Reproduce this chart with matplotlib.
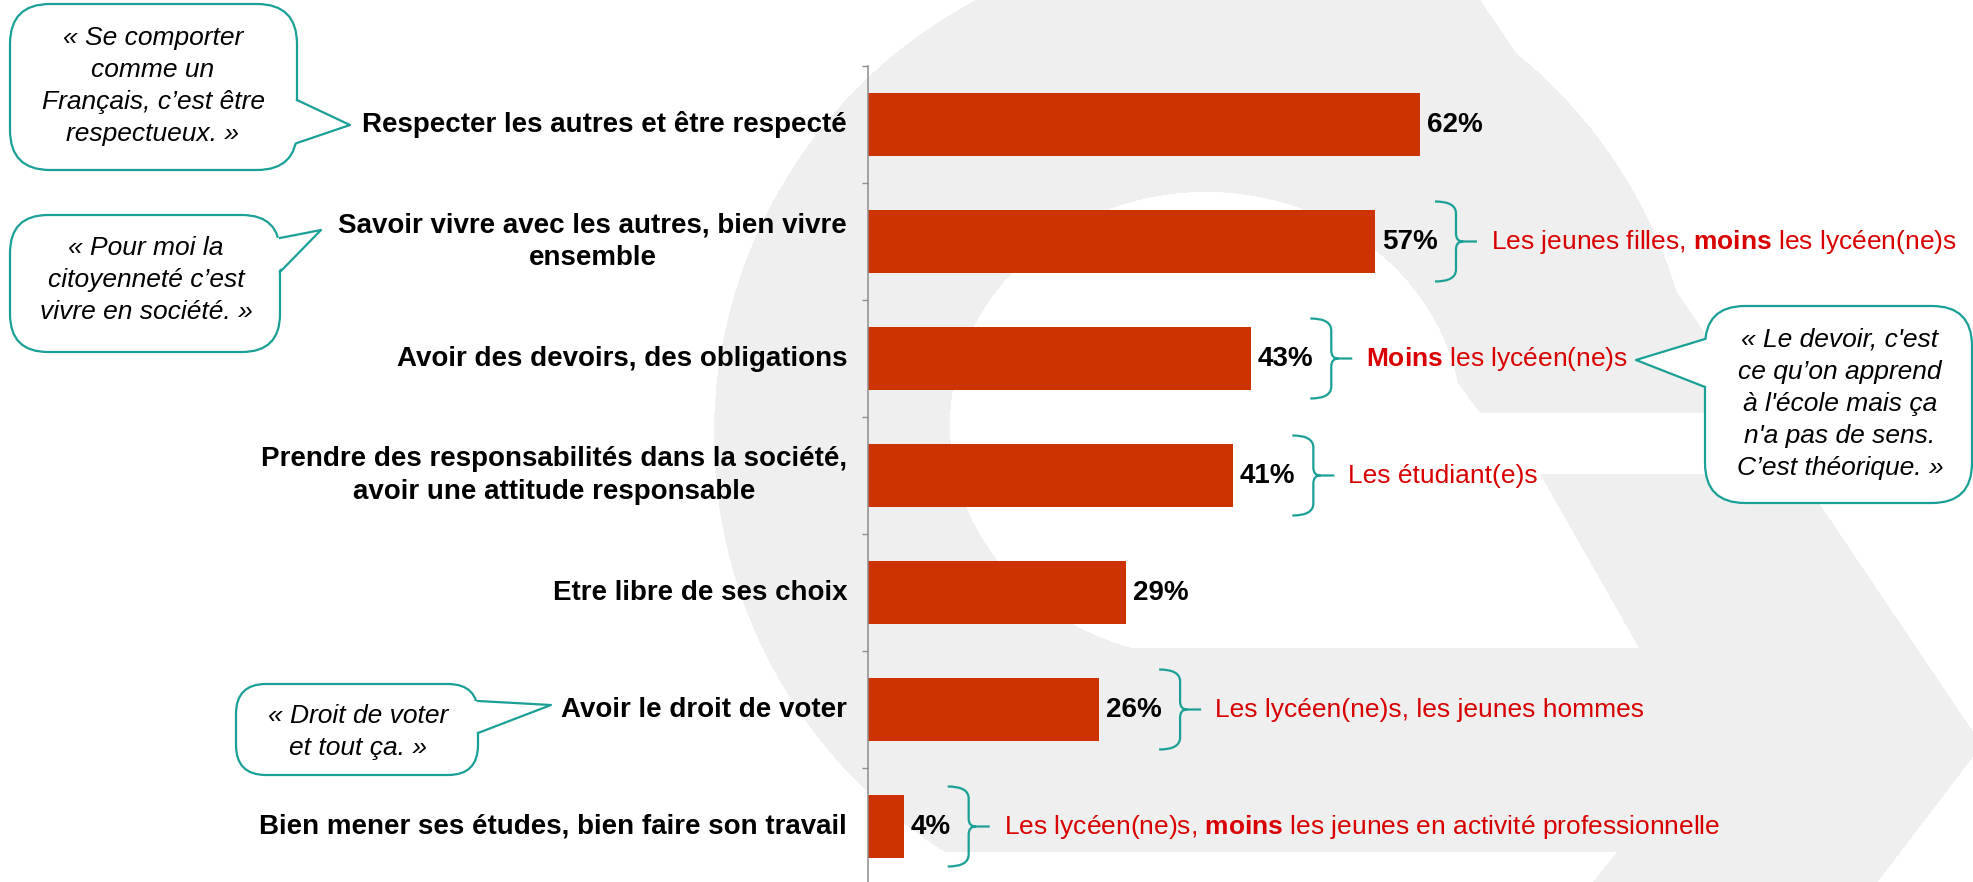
import numpy as np
import matplotlib
matplotlib.use("Agg")
import matplotlib.pyplot as plt
from matplotlib.path import Path
from matplotlib.patches import FancyBboxPatch, Polygon, PathPatch
from matplotlib.lines import Line2D
from matplotlib.transforms import IdentityTransform

plt.rcParams['font.family'] = ['Liberation Sans', 'DejaVu Sans']
plt.rcParams['mathtext.fontset'] = 'custom'
plt.rcParams['mathtext.rm'] = 'Liberation Sans'
plt.rcParams['mathtext.bf'] = 'Liberation Sans:bold'

# --- data -------------------------------------------------------------
categories = [
    "Respecter les autres et être respecté",
    "Savoir vivre avec les autres, bien vivre\nensemble",
    "Avoir des devoirs, des obligations",
    "Prendre des responsabilités dans la société,\navoir une attitude responsable",
    "Etre libre de ses choix",
    "Avoir le droit de voter",
    "Bien mener ses études, bien faire son travail",
]
values = [62, 57, 43, 41, 29, 26, 4]
notes = [
    "",
    r"Les jeunes filles, $\mathbf{moins}$ les lycéen(ne)s",
    r"$\mathbf{Moins}$ les lycéen(ne)s",
    "Les étudiant(e)s",
    "",
    "Les lycéen(ne)s, les jeunes hommes",
    r"Les lycéen(ne)s, $\mathbf{moins}$ les jeunes en activité professionnelle",
]
quotes = [
    "« Se comporter\ncomme un\nFrançais, c’est être\nrespectueux. »",
    "« Pour moi la\ncitoyenneté c’est\nvivre en société. »",
    "« Le devoir, c'est\nce qu’on apprend\nà l'école mais ça\nn'a pas de sens.\nC’est théorique. »",
    "« Droit de voter\net tout ça. »",
]

BAR = '#cc3300'
RED = '#d80000'
TEAL = '#1aa096'
W, H = 1973, 882

fig = plt.figure(figsize=(W / 100, H / 100), dpi=100)

# --- faint logo watermark in the background ---------------------------
ax_bg = fig.add_axes([0, 0, 1, 1], zorder=0)
yy, xx = np.mgrid[0:H, 0:W] + 0.5
pts = np.column_stack((xx.ravel(), yy.ravel()))
outer = (xx - 1206) ** 2 + (yy - 435) ** 2 <= 492 ** 2
chev = Path([(1206, -60), (1440, -60), (1982, 745), (1788, 1000), (1206, 1000)])
outer |= chev.contains_points(pts).reshape(xx.shape)
hole = ((xx - 1206) / 256) ** 2 + ((yy - 425) / 233) ** 2 <= 1
hole_poly = Path([(1206, 425), (1389, 290), (1480, 413), (2100, 413), (2100, 474),
                  (1540, 474), (1639, 648), (1206, 648)])
hole |= hole_poly.contains_points(pts).reshape(xx.shape)
hole &= yy < 648
low = (yy >= 852) & (xx < 1617 - 0.8 * (yy - 852))
grey = outer & ~hole & ~low
img = np.ones((H, W, 3))
img[grey] = 239 / 255
ax_bg.imshow(img, extent=(0, W, H, 0), interpolation='nearest', aspect='auto')
ax_bg.axis('off')

# --- bars -------------------------------------------------------------
ax = fig.add_axes([868 / W, (H - 885) / H, 890 / W, 819 / H], zorder=2)
ax.patch.set_alpha(0)
y = np.arange(len(categories))
ax.barh(y, values, height=0.53, color=BAR)
ax.set_xlim(0, 100)
ax.set_ylim(len(categories) - 0.5, -0.5)
ax.set_yticks(np.arange(len(categories) + 1) - 0.5)
ax.set_yticklabels([])
ax.set_xticks([])
ax.tick_params(axis='y', length=4.3, width=1, color='#8c8c8c', direction='out')
for s in ['top', 'right', 'bottom']:
    ax.spines[s].set_visible(False)
ax.spines['left'].set_color('#8c8c8c')
ax.spines['left'].set_linewidth(1.1)

for i, cat in enumerate(categories):
    ax.annotate(cat, xy=(0, i), xytext=(-15, 0), textcoords='offset points',
                ha='right', va='center', fontsize=20, fontweight='bold',
                multialignment='center', linespacing=1.35)

renderer = fig.canvas.get_renderer()
vlabels = []
for i, v in enumerate(values):
    t = ax.annotate(f"{v}%", xy=(v, i), xytext=(5, 0), textcoords='offset points',
                    ha='left', va='center', fontsize=20, fontweight='bold')
    vlabels.append(t)

# --- overlay: braces, notes, speech bubbles ---------------------------
ax_ov = fig.add_axes([0, 0, 1, 1], zorder=3)
ax_ov.patch.set_alpha(0)
ax_ov.set_xlim(0, W)
ax_ov.set_ylim(H, 0)
ax_ov.axis('off')


def brace(xl, yc, h=40, w=21, tip=7, dash=14):
    v = [(xl, yc + h), (xl + w, yc + h), (xl + w, yc + h - 12),
         (xl + w, yc + 8),
         (xl + w, yc), (xl + w + tip, yc),
         (xl + w, yc), (xl + w, yc - 8),
         (xl + w, yc - h + 12),
         (xl + w, yc - h), (xl, yc - h),
         (xl + w + tip, yc), (xl + w + tip + dash, yc)]
    c = [Path.MOVETO, Path.CURVE3, Path.CURVE3, Path.LINETO,
         Path.CURVE3, Path.CURVE3, Path.CURVE3, Path.CURVE3,
         Path.LINETO, Path.CURVE3, Path.CURVE3,
         Path.MOVETO, Path.LINETO]
    return Path(v, c)


for i, note in enumerate(notes):
    if not note:
        continue
    bb = vlabels[i].get_window_extent(renderer)
    yc = ax.transData.transform((0, i))[1]
    xl = bb.x1 - 3
    p = PathPatch(brace(xl, yc), transform=IdentityTransform(), fill=False,
                  edgecolor=TEAL, lw=1.6, zorder=4)
    ax_ov.add_patch(p)
    ax_ov.text(xl + 56, yc, note, transform=IdentityTransform(), ha='left',
               va='center', fontsize=19, color=RED, zorder=6)

# speech bubbles: box (x0, y0, x1, y1), pointer base points, tip, text centre
bubbles = [
    ((10, 4, 297, 170), (297, 100), (297, 143), (350, 125), (153, 86), 40),
    ((10, 215, 280, 352), (280, 238), (280, 272), (321, 230), (146, 280), 38),
    ((1705, 306, 1972, 503), (1705, 339), (1705, 387), (1636, 360), (1840, 404), 40),
    ((236, 684, 478, 775), (478, 701), (478, 733), (551, 705), (358, 732), 30),
]
for q, (box, b1, b2, tip, c, r) in zip(quotes, bubbles):
    x0, y0, x1, y1 = box
    ax_ov.add_patch(FancyBboxPatch((x0, y0), x1 - x0, y1 - y0,
                                   boxstyle=f"round,pad=0,rounding_size={r}",
                                   facecolor='white', edgecolor=TEAL, lw=1.6, zorder=3))
    inward = -3 if b1[0] == x1 else 3
    ax_ov.add_patch(Polygon([(b1[0] + inward, b1[1]), tip, (b2[0] + inward, b2[1])],
                            closed=True, facecolor='white', edgecolor='none', zorder=4))
    ax_ov.add_line(Line2D([b1[0], tip[0], b2[0]], [b1[1], tip[1], b2[1]],
                          color=TEAL, lw=1.6, zorder=5))
    ax_ov.text(c[0], c[1], q, ha='center', va='center', fontsize=19,
               fontstyle='italic', multialignment='center', linespacing=1.43, zorder=6)

fig.savefig('out.png', dpi=100)
